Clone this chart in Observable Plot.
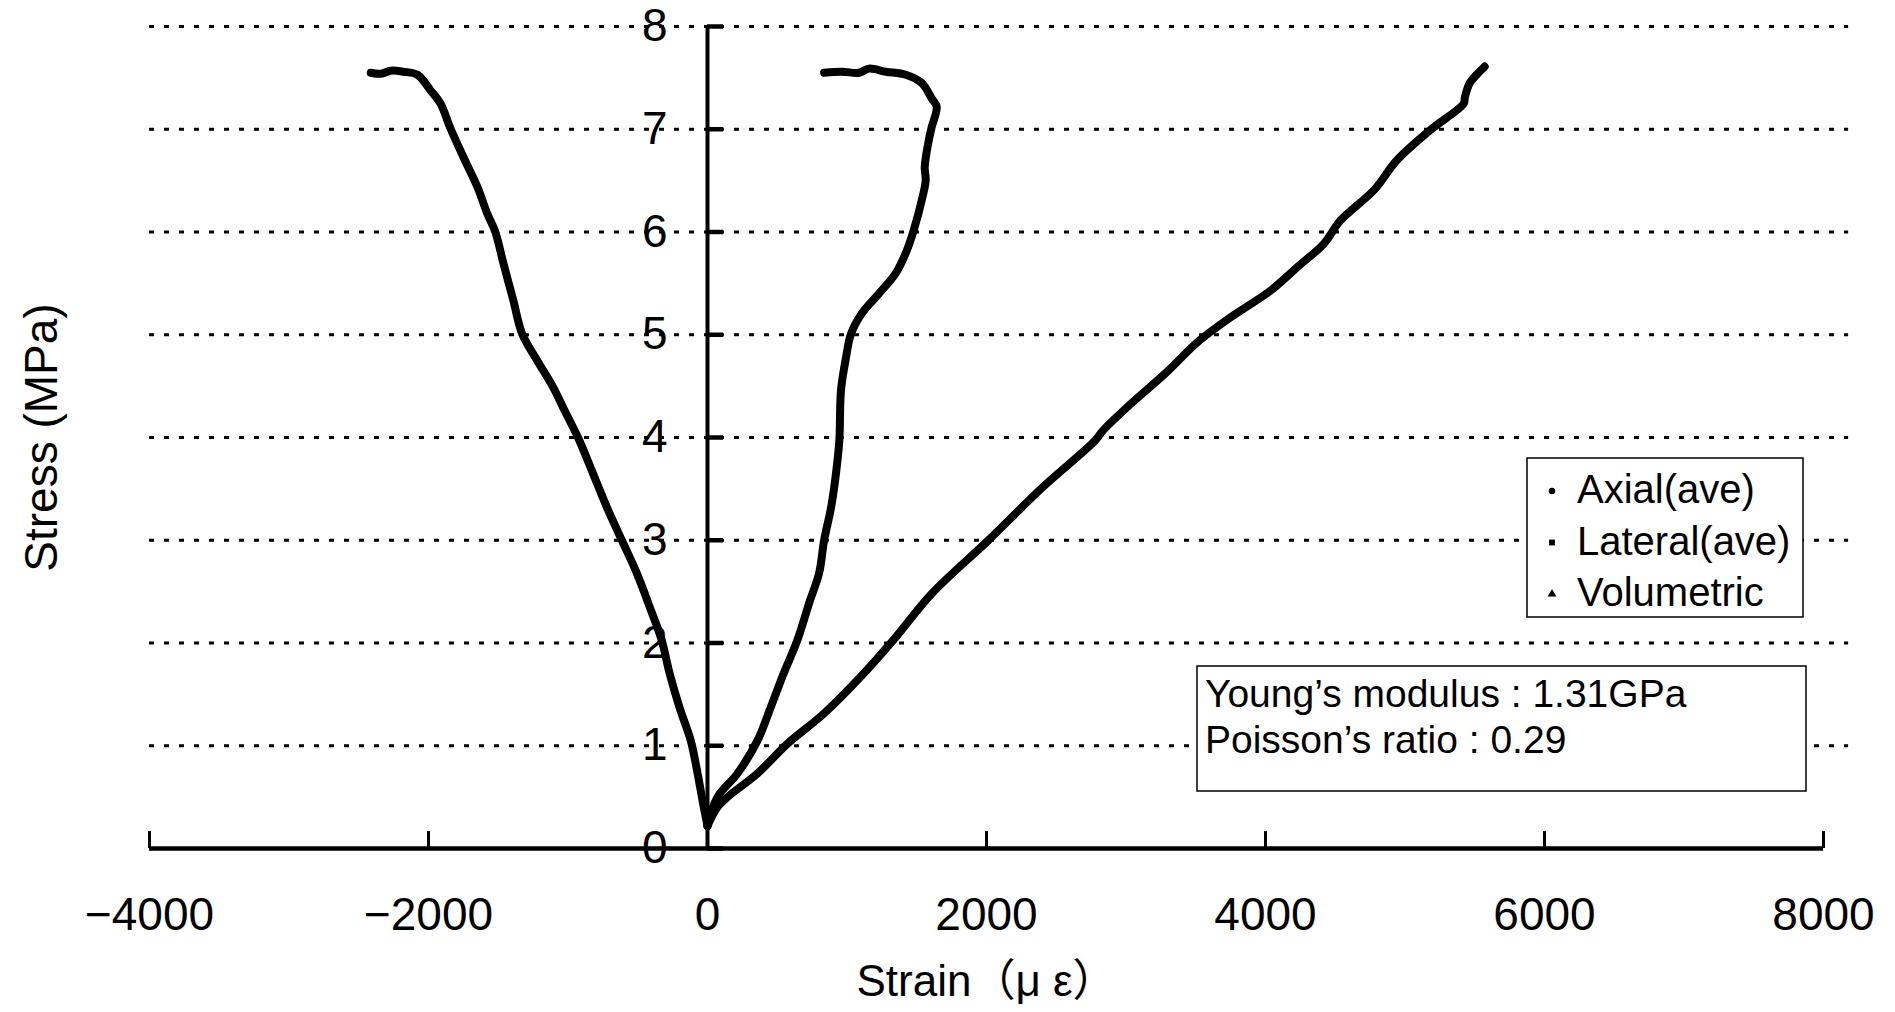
<!DOCTYPE html>
<html><head><meta charset="utf-8">
<script src="https://cdn.jsdelivr.net/npm/d3@7"></script>
<script src="https://cdn.jsdelivr.net/npm/@observablehq/plot@0.6"></script>
<style>
html,body{margin:0;padding:0;background:#fff;}
#wrap{position:relative;width:1895px;height:1012px;overflow:hidden;background:#fff;}
#wrap svg{display:block;}
.ov{position:absolute;left:0;top:0;pointer-events:none;}
</style></head><body><div id="wrap"></div>
<script>
// ---- data ----
const xTicks = [-4000, -2000, 0, 2000, 4000, 6000, 8000];
const yTicks = [0, 1, 2, 3, 4, 5, 6, 7, 8];
const gridLevels = [1, 2, 3, 4, 5, 6, 7, 8];
const seriesNames = ["Axial(ave)", "Lateral(ave)", "Volumetric"];
const xLabel = "Strain（μ ε）";
const yLabel = "Stress (MPa)";
const notes = ["Young’s modulus : 1.31GPa", "Poisson’s ratio : 0.29"];

const axialStrain = [0, 70, 143, 358, 573, 832, 1118, 1333, 1607, 2014, 2390, 2779, 2836, 3036, 3279, 3514, 3750, 4036, 4229, 4421, 4536, 4779, 4943, 5179, 5421, 5429, 5464, 5520, 5571];
const axialStress = [0.22, 0.40, 0.50, 0.73, 1.02, 1.31, 1.70, 2.03, 2.48, 3.00, 3.50, 3.97, 4.07, 4.33, 4.62, 4.93, 5.17, 5.43, 5.66, 5.89, 6.11, 6.41, 6.70, 6.99, 7.25, 7.31, 7.45, 7.54, 7.61];

const lateralStrain = [0, -36, -71, -120, -200, -271, -329, -414, -507, -614, -721, -821, -925, -1020, -1107, -1221, -1329, -1393, -1464, -1521, -1579, -1650, -1750, -1843, -1914, -1986, -2079, -2180, -2271, -2340, -2414];
const lateralStress = [0.22, 0.47, 0.73, 1.05, 1.37, 1.70, 2.03, 2.35, 2.68, 3.00, 3.32, 3.65, 3.99, 4.25, 4.49, 4.75, 5.01, 5.34, 5.70, 6.00, 6.18, 6.44, 6.73, 7.01, 7.25, 7.38, 7.53, 7.56, 7.57, 7.54, 7.55];

const volStrain = [0, 71, 215, 358, 452, 545, 645, 729, 800, 836, 886, 921, 945, 957, 993, 1029, 1107, 1229, 1350, 1429, 1479, 1536, 1564, 1557, 1586, 1607, 1643, 1607, 1536, 1421, 1279, 1157, 1086, 964, 836];
const volStress = [0.22, 0.50, 0.73, 1.05, 1.37, 1.70, 2.03, 2.39, 2.68, 3.00, 3.32, 3.65, 3.97, 4.46, 4.78, 5.01, 5.21, 5.40, 5.60, 5.82, 6.02, 6.31, 6.50, 6.63, 6.89, 7.02, 7.22, 7.30, 7.45, 7.53, 7.56, 7.59, 7.55, 7.56, 7.55];

// ---- tidy rows ----
const rows = [];
function pushSeries(name, xs, ys) { xs.forEach((x, i) => rows.push({series: name, strain: x, stress: ys[i]})); }
pushSeries(seriesNames[0], axialStrain, axialStress);
pushSeries(seriesNames[1], lateralStrain, lateralStress);
pushSeries(seriesNames[2], volStrain, volStress);

const font = "'Liberation Sans', Arial, 'Noto Sans CJK JP', sans-serif";
const fmt = d => d < 0 ? "\u2212" + Math.abs(d) : String(d);

const chart = Plot.plot({
  width: 1895, height: 1012,
  marginLeft: 149, marginRight: 72, marginTop: 26, marginBottom: 164,
  x: {domain: [-4000, 8000], axis: null},
  y: {domain: [0, 8], axis: null},
  style: {fontFamily: font, background: "white", color: "black", overflow: "visible"},
  marks: [
    Plot.ruleY(gridLevels, {y: d => d, x1: -4000, x2: 8180, stroke: "black", strokeWidth: 3.2, strokeDasharray: "5 10"}),
    Plot.ruleY([0], {y: d => d, x1: -4000, x2: 8000, stroke: "black", strokeWidth: 4.5}),
    Plot.ruleX(xTicks, {x: d => d, y1: 0, y2: 0.165, stroke: "black", strokeWidth: 3}),
    Plot.ruleX([0], {x: d => d, y1: 0, y2: 8, stroke: "black", strokeWidth: 4}),
    Plot.ruleY(yTicks, {y: d => d, x1: 0, x2: 115, stroke: "black", strokeWidth: 4.5}),
    Plot.line(rows, {x: "strain", y: "stress", z: "series", stroke: "black", strokeWidth: 8, strokeLinejoin: "round", strokeLinecap: "round", curve: "catmull-rom"}),
    Plot.text(yTicks, {x: 0, y: d => d, dx: -40, textAnchor: "end", text: d => String(d), fontSize: 46, fill: "black"}),
    Plot.text(xTicks, {x: d => d, y: 0, dy: 67, text: fmt, fontSize: 46, fill: "black"}),
    Plot.text([yLabel], {frameAnchor: "left", dx: -107, rotate: -90, textAnchor: "middle", lineAnchor: "middle", text: d => d, fontSize: 46, fill: "black"}),
    Plot.text([xLabel], {frameAnchor: "bottom", dy: 133, textAnchor: "middle", lineAnchor: "middle", text: d => d, fontSize: 44, fill: "black"})
  ]
});
document.getElementById("wrap").appendChild(chart);

// ---- legend and annotation box (overlay) ----
const ov = d3.select("#wrap").append("svg").attr("class", "ov")
  .attr("width", 1895).attr("height", 1012).style("font-family", font);

const lg = ov.append("g").attr("transform", "translate(1527,458)");
lg.append("rect").attr("width", 276).attr("height", 159).attr("fill", "white").attr("stroke", "black").attr("stroke-width", 1.5);
const symbols = [d3.symbolCircle, d3.symbolSquare, d3.symbolTriangle];
seriesNames.forEach((name, i) => {
  const by = 45 + i * 51.5;
  lg.append("path").attr("d", d3.symbol(symbols[i], 34)()).attr("transform", `translate(25,${by - 12})`).attr("fill", "black");
  lg.append("text").attr("x", 50).attr("y", by).attr("font-size", 40).attr("fill", "black").text(name);
});

const nb = ov.append("g").attr("transform", "translate(1197,666)");
nb.append("rect").attr("width", 609).attr("height", 125).attr("fill", "white").attr("stroke", "black").attr("stroke-width", 1.5);
notes.forEach((t, i) => {
  nb.append("text").attr("x", 8).attr("y", 41 + i * 46).attr("font-size", 39).attr("fill", "black").text(t);
});
</script></body></html>
